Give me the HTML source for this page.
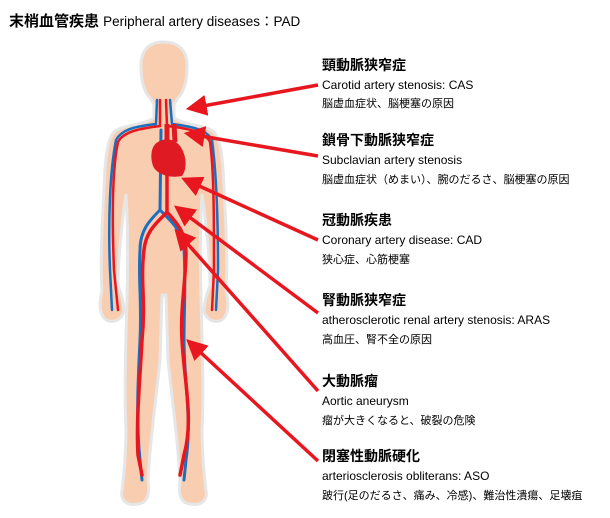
<!DOCTYPE html>
<html><head><meta charset="utf-8"><style>
html,body{margin:0;padding:0;background:#fff;width:610px;height:518px;overflow:hidden}
svg text{font-family:"Liberation Sans","Noto Sans CJK JP",sans-serif}
</style></head><body>
<svg width="610" height="518" viewBox="0 0 610 518" xmlns="http://www.w3.org/2000/svg">
<defs>
<marker id="ah" markerWidth="6" markerHeight="6" refX="1" refY="3" orient="auto" markerUnits="strokeWidth">
<path d="M0,0 L6,3 L0,6 z" fill="#e8161e"/></marker>
</defs>
<text x="9" y="26" font-size="15" font-weight="bold" fill="#000">末梢血管疾患 <tspan font-size="13.5" font-weight="normal">Peripheral artery diseases：PAD</tspan></text>

<!-- body -->
<g fill="#f9cdb0" stroke="#e6e6e6" stroke-width="3" stroke-linejoin="round">
<path d="M163,42 C148,42 140,52 141,68 C141,80 144,92 150,98 L154,104 L154,118 C140,126 122,125 114,132 C107,140 105,160 104,190 C102,225 100,265 102,290 C100,300 98,310 104,318 C110,324 120,322 124,312 C124,300 120,292 118,285 C118,260 122,220 126,195 C128,225 128,260 127,300 C126,340 124,390 126,430 C126,450 124,475 122,490 C120,500 126,506 138,504 C146,503 150,498 148,480 C150,440 156,400 160,360 L162,295 L166,295 L168,360 C172,400 178,440 180,480 C178,498 182,503 190,504 C202,506 208,500 206,490 C204,475 202,450 202,430 C204,390 202,340 201,300 C200,260 200,225 202,195 C206,220 210,260 210,285 C208,292 204,300 204,312 C208,322 218,324 224,318 C230,310 228,300 226,290 C228,265 226,225 224,190 C223,160 221,140 214,132 C206,125 188,126 174,118 L174,104 L178,98 C184,92 187,80 187,68 C188,52 180,42 163,42 Z"/>
</g>
<!-- vessels -->
<g fill="none" stroke-linecap="round">
<path d="M157,100 L156,124 C140,126 122,128 116,140 C110,170 108,220 110,270 L112,310" stroke="#1a6fc0" stroke-width="2.5"/>
<path d="M170,100 L172,124 C186,126 206,128 212,140 C216,170 218,220 218,270 L216,310" stroke="#1a6fc0" stroke-width="2.5"/>
<path d="M161,130 L160,210 C150,220 140,230 140,250 C138,280 142,300 140,340 C138,380 136,420 140,460 L142,480" stroke="#1a6fc0" stroke-width="3"/>
<path d="M160,210 C172,222 182,230 184,250 C186,280 184,310 184,340 C184,380 192,420 186,460 L184,480" stroke="#1a6fc0" stroke-width="3"/>
<path d="M160,100 L160,126 C146,128 124,130 118,142 C112,170 112,220 114,270 L118,310" stroke="#e8161e" stroke-width="2.5"/>
<path d="M166,100 L167,126 C182,128 204,130 210,142 C214,170 214,220 214,270 L212,310" stroke="#e8161e" stroke-width="2.5"/>
<path d="M167,140 L167,212 C158,222 146,230 144,250 C140,280 146,300 142,340 C140,380 136,420 138,455 L142,475" stroke="#e8161e" stroke-width="3.5"/>
<path d="M167,212 C176,222 186,232 186,252 C186,280 180,310 182,340 C184,380 194,420 184,455 L180,475" stroke="#e8161e" stroke-width="3.5"/>
</g>
<!-- heart -->
<path d="M158,142 C150,146 150,160 154,168 C160,176 172,178 182,176 C188,168 186,154 180,146 C174,138 164,138 158,142 Z" fill="#e01a22"/>
<path d="M167,124 L167,142 M174,124 L175,142" stroke="#e01a22" stroke-width="5"/>

<!-- arrows -->
<g stroke="#e8161e" stroke-width="3.5" fill="none" marker-end="url(#ah)">
<line x1="318" y1="85" x2="203" y2="106"/>
<line x1="318" y1="156" x2="201" y2="136"/>
<line x1="318" y1="240" x2="197" y2="185"/>
<line x1="318" y1="313" x2="188" y2="216"/>
<line x1="318" y1="391" x2="186" y2="242"/>
<line x1="318" y1="461" x2="199" y2="351"/>
</g>

<g fill="#000">
<text x="322" y="70" font-size="14" font-weight="bold">頸動脈狭窄症</text>
<text x="322" y="89" font-size="12">Carotid artery stenosis: CAS</text>
<text x="322" y="107" font-size="11">脳虚血症状、脳梗塞の原因</text>

<text x="322" y="145" font-size="14" font-weight="bold">鎖骨下動脈狭窄症</text>
<text x="322" y="164" font-size="12">Subclavian artery stenosis</text>
<text x="322" y="183" font-size="11">脳虚血症状（めまい）、腕のだるさ、脳梗塞の原因</text>

<text x="322" y="225" font-size="14" font-weight="bold">冠動脈疾患</text>
<text x="322" y="244" font-size="12">Coronary artery disease: CAD</text>
<text x="322" y="263" font-size="11">狭心症、心筋梗塞</text>

<text x="322" y="305" font-size="14" font-weight="bold">腎動脈狭窄症</text>
<text x="322" y="324" font-size="12">atherosclerotic renal artery stenosis: ARAS</text>
<text x="322" y="343" font-size="11">高血圧、腎不全の原因</text>

<text x="322" y="386" font-size="14" font-weight="bold">大動脈瘤</text>
<text x="322" y="405" font-size="12">Aortic aneurysm</text>
<text x="322" y="424" font-size="11">瘤が大きくなると、破裂の危険</text>

<text x="322" y="461" font-size="14" font-weight="bold">閉塞性動脈硬化</text>
<text x="322" y="480" font-size="12">arteriosclerosis obliterans: ASO</text>
<text x="322" y="499" font-size="11">跛行(足のだるさ、痛み、冷感)、難治性潰瘍、足壊疽</text>
</g>
</svg>
</body></html>
